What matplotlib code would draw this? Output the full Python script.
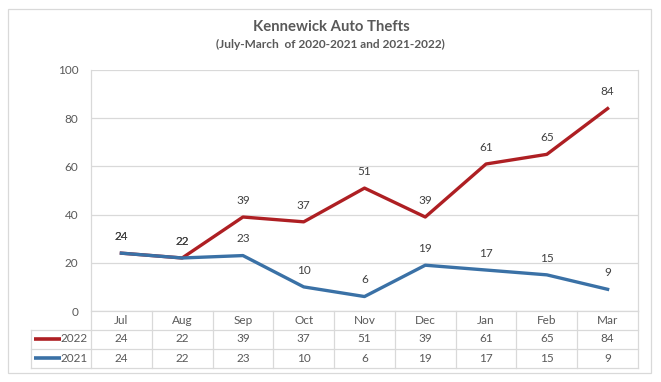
import matplotlib
matplotlib.use("Agg")
import matplotlib.pyplot as plt
from matplotlib.transforms import blended_transform_factory
from matplotlib.lines import Line2D
from matplotlib.patches import Rectangle

months = ["Jul", "Aug", "Sep", "Oct", "Nov", "Dec", "Jan", "Feb", "Mar"]
thefts_2022 = [24, 22, 39, 37, 51, 39, 61, 65, 84]
thefts_2021 = [24, 22, 23, 10, 6, 19, 17, 15, 9]
series_names = ["2022", "2021"]
yticks = [0, 20, 40, 60, 80, 100]

RED = "#AE1F23"
BLUE = "#3A71A6"
GRID = "#D9D9D9"
TXT = "#595959"
FONT = ["Lato", "DejaVu Sans"]
plt.rcParams["font.family"] = FONT

W, H = 661, 382
fig = plt.figure(figsize=(W / 100, H / 100), dpi=100)

def fx(px):
    return px / W

def fy(py):
    return 1 - py / H

# outer border
fig.patches.append(Rectangle((fx(7.5), fy(372.5)), fx(643), (364) / H, transform=fig.transFigure,
                             fill=False, edgecolor=GRID, linewidth=0.9))

L, R, T, B = 91, 638, 70, 311
ax = fig.add_axes([fx(L), fy(B), fx(R - L), (B - T) / H])
ax.set_xlim(-0.5, len(months) - 0.5)
ax.set_ylim(0, 100)
for s in ["top", "bottom", "left"]:
    ax.spines[s].set_visible(False)
ax.spines["right"].set_color(GRID)
ax.spines["right"].set_linewidth(0.9)
ax.set_yticks(yticks)
ax.set_yticklabels([str(v) for v in yticks], fontsize=8.5, color=TXT)
ax.tick_params(axis="y", length=0, pad=9)
ax.set_xticks([])
ax.grid(axis="y", color=GRID, linewidth=0.9)
ax.set_axisbelow(True)

x = list(range(len(months)))
ax.plot(x, thefts_2022, color=RED, linewidth=2.4, solid_joinstyle="round", clip_on=False, zorder=3)
ax.plot(x, thefts_2021, color=BLUE, linewidth=2.4, solid_joinstyle="round", clip_on=False, zorder=4)
for xi, v in zip(x, thefts_2022):
    ax.annotate(str(v), (xi, v), xytext=(0, 12), textcoords="offset points",
                ha="center", va="center", fontsize=8.5, color="#404040")
for xi, v in zip(x, thefts_2021):
    ax.annotate(str(v), (xi, v), xytext=(0, 12), textcoords="offset points",
                ha="center", va="center", fontsize=8.5, color="#404040")

# titles
fig.text(fx(331), fy(27), "Kennewick Auto Thefts", ha="center", va="center",
         fontsize=10.7, fontweight="bold", color=TXT)
fig.text(fx(330), fy(44.5), "(July-March  of 2020-2021 and 2021-2022)", ha="center", va="center",
         fontsize=8.6, fontweight="bold", color=TXT)

# data table
tr = blended_transform_factory(ax.transData, fig.transFigure)
rows_y = [311, 329.5, 348.5, 367.5]
lw = 0.9
# left axis line from top of plot through table
fig.add_artist(Line2D([fx(L), fx(L)], [fy(T), fy(rows_y[3])], color=GRID, linewidth=lw))
# horizontal lines
fig.add_artist(Line2D([fx(L), fx(R)], [fy(rows_y[0]), fy(rows_y[0])], color=GRID, linewidth=lw))
for ry in rows_y[1:]:
    fig.add_artist(Line2D([fx(30.5), fx(R)], [fy(ry), fy(ry)], color=GRID, linewidth=lw))
fig.add_artist(Line2D([fx(30.5), fx(30.5)], [fy(rows_y[1]), fy(rows_y[3])], color=GRID, linewidth=lw))
# vertical column lines
for i in range(1, len(months) + 1):
    fig.add_artist(Line2D([i - 0.5, i - 0.5], [fy(rows_y[0]), fy(rows_y[3])], transform=tr,
                          color=GRID, linewidth=lw))
# header + values
for i, m in enumerate(months):
    fig.text(i, fy((rows_y[0] + rows_y[1]) / 2), m, transform=tr, ha="center", va="center",
             fontsize=8.5, color=TXT)
    fig.text(i, fy((rows_y[1] + rows_y[2]) / 2), str(thefts_2022[i]), transform=tr, ha="center",
             va="center", fontsize=8.5, color=TXT)
    fig.text(i, fy((rows_y[2] + rows_y[3]) / 2), str(thefts_2021[i]), transform=tr, ha="center",
             va="center", fontsize=8.5, color=TXT)
# legend keys
for k, (name, col) in enumerate(zip(series_names, [RED, BLUE])):
    yc = fy((rows_y[1 + k] + rows_y[2 + k]) / 2)
    fig.add_artist(Line2D([fx(34), fx(61)], [yc, yc], color=col, linewidth=2.6, solid_capstyle="butt"))
    fig.text(fx(88), yc, name, ha="right", va="center", fontsize=8.5, color=TXT)

fig.savefig("out.png", dpi=100)
